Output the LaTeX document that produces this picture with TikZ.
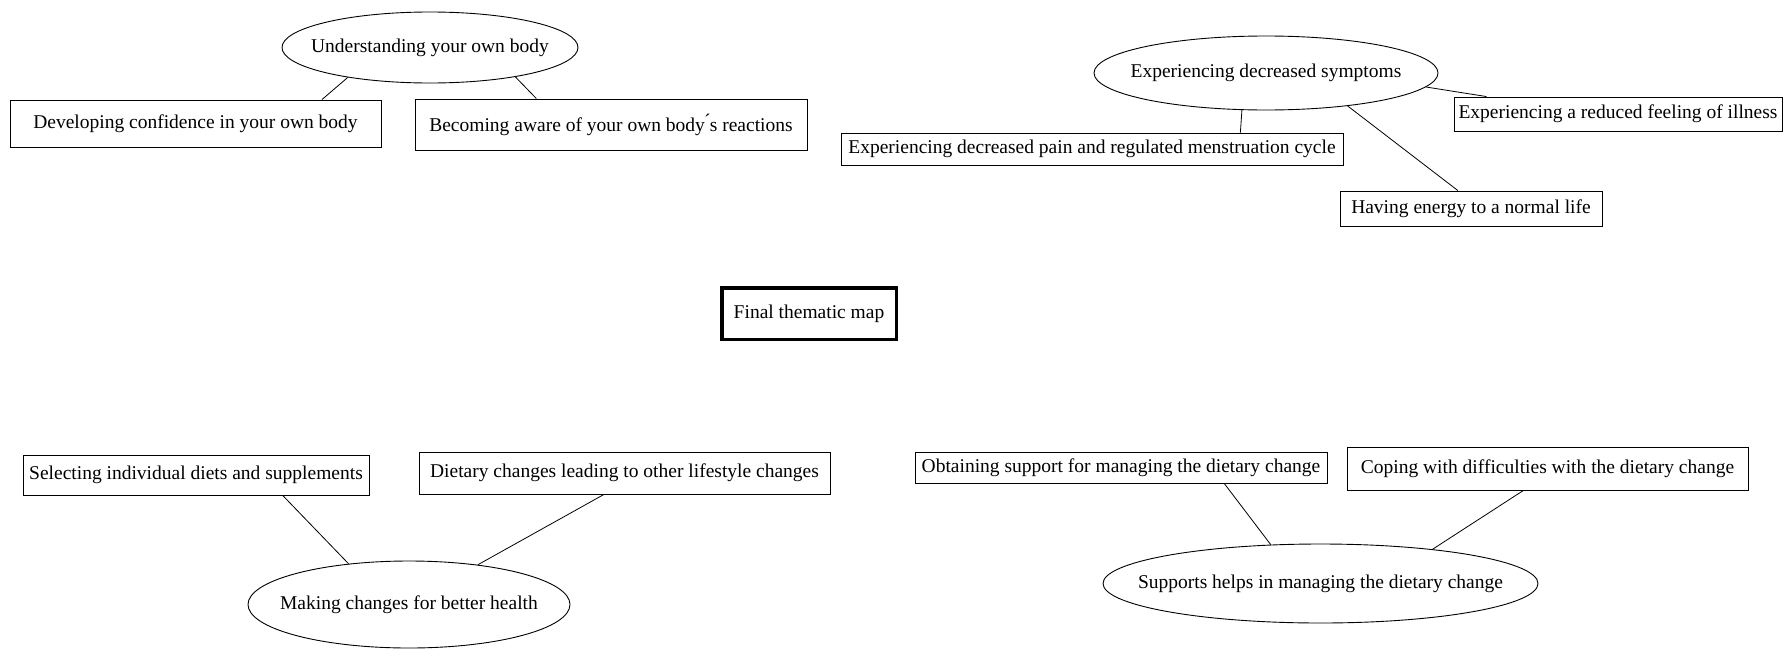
\documentclass[tikz,border=0pt]{standalone}
\usepackage{fontspec}
\setmainfont{Liberation Serif}
\usetikzlibrary{shapes.geometric,calc}
\tikzset{
  txt/.style={font=\fontsize{19.5}{23}\selectfont, text=black, inner sep=1pt},
  themebox/.style={txt, draw=black, line width=0.9pt, rectangle},
  themeoval/.style={txt, draw=black, line width=0.9pt, ellipse, inner sep=0pt},
  mapbox/.style={txt, draw=black, line width=3.5pt, rectangle},
  link/.style={draw=black, line width=0.8pt}
}
\begin{document}
\begin{tikzpicture}[x=1pt,y=-1pt]
\useasboundingbox[fill=white] (0,0) rectangle (1787,656);

% top left
\node[themeoval, minimum width=296pt, minimum height=71pt] (E1) at (430,47.5) {\makebox[0pt]{Understanding your own body}};
\node[themebox, minimum width=371pt, minimum height=47pt] (B1) at (195.5,123.5) {Developing confidence in your own body};
\node[themebox, minimum width=392pt, minimum height=51pt] (B2) at (611,124.5) {Becoming aware of your own body\'{}s reactions};

% top right
\node[themeoval, minimum width=344pt, minimum height=74pt] (E2) at (1266,73) {\makebox[0pt]{Experiencing decreased symptoms}};
\node[themebox, minimum width=502pt, minimum height=32pt] (B3) at (1092,149) {Experiencing decreased pain and regulated menstruation cycle};
\node[themebox, minimum width=328pt, minimum height=34pt] (B4) at (1618,114) {Experiencing a reduced feeling of illness};
\node[themebox, minimum width=262pt, minimum height=35pt] (B5) at (1471,208.5) {Having energy to a normal life};

% centre
\node[mapbox, minimum width=174.5pt, minimum height=51.5pt] (F) at (809,313.5) {Final thematic map};

% bottom left
\node[themebox, minimum width=346pt, minimum height=40pt] (B6) at (196,475) {Selecting individual diets and supplements};
\node[themebox, minimum width=411pt, minimum height=42pt] (B7) at (624.5,473) {Dietary changes leading to other lifestyle changes};
\node[themeoval, minimum width=322pt, minimum height=87pt] (E3) at (409,604.5) {\makebox[0pt]{Making changes for better health}};

% bottom right
\node[themebox, minimum width=412pt, minimum height=31pt] (B8) at (1121,467.5) {Obtaining support for managing the dietary change};
\node[themebox, minimum width=401pt, minimum height=43pt] (B9) at (1547.5,468.5) {Coping with difficulties with the dietary change};
\node[themeoval, minimum width=435pt, minimum height=79pt] (E4) at (1320.5,583.5) {\makebox[0pt]{Supports helps in managing the dietary change}};

% connectors
\draw[link] (E1.200) -- ($(B1.north west)!0.84!(B1.north east)$);
\draw[link] (E1.341) -- ($(B2.north west)!0.31!(B2.north east)$);

\draw[link] (E2.237) -- ($(B3.north west)!0.795!(B3.north east)$);
\draw[link] (E2.338) -- ($(B5.north west)!0.45!(B5.north east)$);
\draw[link] (E2.355) -- ($(B4.north west)!0.10!(B4.north east)$);

\draw[link] (E3.146) -- ($(B6.south west)!0.75!(B6.south east)$);
\draw[link] (E3.30) -- ($(B7.south west)!0.45!(B7.south east)$);

\draw[link] (E4.142) -- ($(B8.south west)!0.75!(B8.south east)$);
\draw[link] (E4.17) -- ($(B9.south west)!0.44!(B9.south east)$);
\end{tikzpicture}
\end{document}
